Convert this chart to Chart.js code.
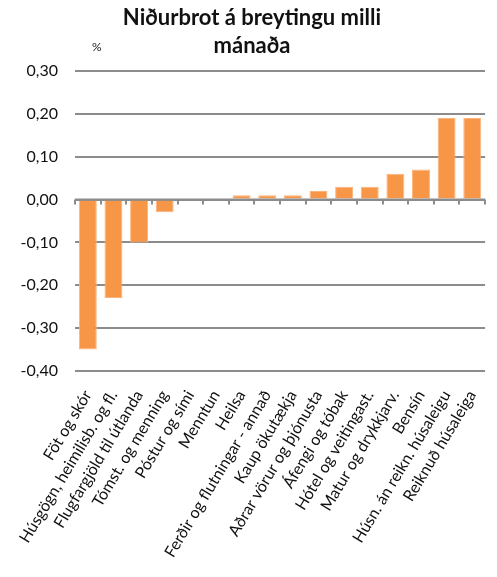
<!DOCTYPE html>
<html>
<head>
<meta charset="utf-8">
<script src="https://cdn.jsdelivr.net/npm/chart.js@4"></script>
<style>
  body { margin: 0; background: #fff; }
  #wrap { width: 497px; height: 577px; }
</style>
</head>
<body>
<div id="wrap"><canvas id="bar-chart"></canvas></div>
<script>
// Data
const categories = [
  "Föt og skór",
  "Húsgögn, heimilisb. og fl.",
  "Flugfargjöld til útlanda",
  "Tómst. og menning",
  "Póstur og sími",
  "Menntun",
  "Heilsa",
  "Ferðir og flutningar - annað",
  "Kaup ökutækja",
  "Aðrar vörur og þjónusta",
  "Áfengi og tóbak",
  "Hótel og veitingast.",
  "Matur og drykkjarv.",
  "Bensín",
  "Húsn. án reikn. húsaleigu",
  "Reiknuð húsaleiga",
];
const changes = [-0.35, -0.23, -0.10, -0.03, 0, 0, 0.01, 0.01, 0.01, 0.02, 0.03, 0.03, 0.06, 0.07, 0.19, 0.19];
const yTicks = [0.3, 0.2, 0.1, 0, -0.1, -0.2, -0.3, -0.4];

// zero axis line with small tick marks between categories, plus the "%" unit
const zeroAxis = {
  id: "zeroAxis",
  afterDraw(chart) {
    const ctx = chart.ctx;
    const x = chart.scales.x;
    const y0 = chart.scales.y.getPixelForValue(0);
    ctx.save();
    ctx.strokeStyle = "#8c8c8c";
    ctx.lineWidth = 2;
    ctx.beginPath();
    ctx.moveTo(x.left, y0);
    ctx.lineTo(x.right, y0);
    const step = x.width / categories.length;
    for (let i = 0; i <= categories.length; i++) {
      const px = Math.round(x.left + i * step);
      ctx.moveTo(px, y0);
      ctx.lineTo(px, y0 + 5);
    }
    ctx.stroke();
    ctx.fillStyle = "#222";
    ctx.font = "12px Lato";
    ctx.textAlign = "left";
    ctx.fillText("%", chart.chartArea.left + 17, chart.chartArea.top - 20);
    ctx.restore();
  },
};

new Chart(document.getElementById("bar-chart"), {
  type: "bar",
  data: {
    labels: categories,
    datasets: [
      {
        data: changes,
        backgroundColor: "#f79646",
        borderColor: "#fbb37a",
        borderWidth: 1,
        categoryPercentage: 1,
        barPercentage: 0.7,
      },
    ],
  },
  options: {
    responsive: true,
    maintainAspectRatio: false,
    animation: false,
    layout: { padding: { left: 16, right: 9, top: 4, bottom: 4 } },
    plugins: {
      legend: { display: false },
      tooltip: { enabled: false },
      title: {
        display: true,
        text: ["Niðurbrot á breytingu milli", "mánaða"],
        color: "#111",
        font: { family: "Lato", size: 22, weight: "bold", lineHeight: 1.27 },
        padding: { top: 0, bottom: 11 },
      },
    },
    scales: {
      x: {
        grid: { display: false },
        border: { display: false },
        afterFit(scale) {
          scale.height = 202;
        },
        ticks: {
          color: "#111",
          font: { family: "Lato", size: 16 },
          minRotation: 59,
          maxRotation: 59,
          autoSkip: false,
          padding: 8,
        },
      },
      y: {
        min: -0.4,
        max: 0.3,
        afterBuildTicks(scale) {
          scale.ticks = yTicks.map((v) => ({ value: v }));
        },
        afterFit(scale) {
          scale.width = 59;
        },
        grid: { color: "#8c8c8c", lineWidth: 2, drawTicks: false },
        border: { display: false },
        ticks: {
          color: "#111",
          font: { family: "Lato", size: 16 },
          padding: 17,
          callback: (v) => v.toFixed(2).replace(".", ","),
        },
      },
    },
  },
  plugins: [zeroAxis],
});
</script>
</body>
</html>
